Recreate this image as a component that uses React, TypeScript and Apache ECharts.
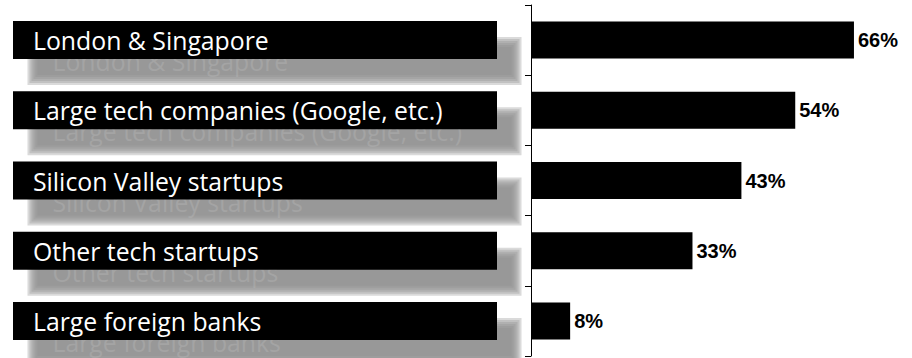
import React, { useEffect, useRef } from "react";
import * as echarts from "echarts";

const categories = [
  "London & Singapore",
  "Large tech companies (Google, etc.)",
  "Silicon Valley startups",
  "Other tech startups",
  "Large foreign banks",
];
const values = [66, 54, 43, 33, 8];

const LABEL_FONT = "Open Sans";
const LABEL_SIZE = 24.8;

export default function App() {
  const ref = useRef<HTMLDivElement>(null);
  useEffect(() => {
    if (!ref.current) return;
    const chart = echarts.init(ref.current, null, { renderer: "svg" });
    const gridLeft = 531;
    const gridWidth = 367;
    const boxLeft = 13;
    const boxWidth = 484;
    const boxHeight = 38;
    const padLeft = 20;
    chart.setOption({
      animation: false,
      grid: { left: gridLeft, top: 5, width: gridWidth, height: 351 },
      xAxis: { type: "value", min: 0, max: 75, show: false },
      yAxis: {
        type: "category",
        data: categories,
        inverse: true,
        z: 5,
        axisLine: { show: true, lineStyle: { color: "#000", width: 1 } },
        axisTick: { show: true, inside: false, length: 6, lineStyle: { color: "#000" } },
        splitLine: { show: false },
        axisLabel: {
          margin: gridLeft - boxLeft,
          align: "left",
          verticalAlign: "middle",
          color: "#fff",
          fontFamily: LABEL_FONT,
          fontSize: LABEL_SIZE,
          backgroundColor: "#000",
          width: boxWidth - padLeft,
          height: boxHeight - 1,
          lineHeight: boxHeight - 1,
          padding: [0, 0, 1, padLeft],
          interval: 0,
        },
      },
      series: [
        {
          type: "bar",
          data: values,
          barWidth: 37,
          z: 4,
          itemStyle: { color: "#000" },
          label: {
            show: true,
            position: "right",
            distance: 4,
            formatter: "{c}%",
            color: "#000",
            fontFamily: "Liberation Sans",
            fontWeight: "bold",
            fontSize: 20,
          },
        },
      ],
    });

    const dx = 19.5;
    const dy = 21;
    const graphics: any[] = [];
    categories.forEach((cat) => {
      const cy = chart.convertToPixel({ yAxisIndex: 0 }, cat) as number;
      const top = cy - boxHeight / 2 + dy;
      const left = boxLeft + dx;
      [5, 3, 1, -1, -3, -5].forEach((e) => {
        graphics.push({
          type: "rect",
          z: 0,
          silent: true,
          shape: { x: left - e, y: top - e, width: boxWidth + 2 * e, height: boxHeight + 2 * e },
          style: { fill: "#8e8e8e", opacity: 0.33 },
        });
      });
      graphics.push({
        type: "text",
        z: 1,
        silent: true,
        x: boxLeft + padLeft + dx,
        y: cy + dy,
        style: {
          text: cat,
          fill: "#bababa",
          opacity: 0.38,
          font: `${LABEL_SIZE}px '${LABEL_FONT}'`,
          verticalAlign: "middle",
          shadowColor: "#b0b0b0",
          shadowBlur: 6,
        },
      });
    });
    chart.setOption({ graphic: graphics });
    return () => chart.dispose();
  }, []);
  return <div ref={ref} style={{ width: 912, height: 358, position: "absolute", left: 0, top: 0 }} />;
}
